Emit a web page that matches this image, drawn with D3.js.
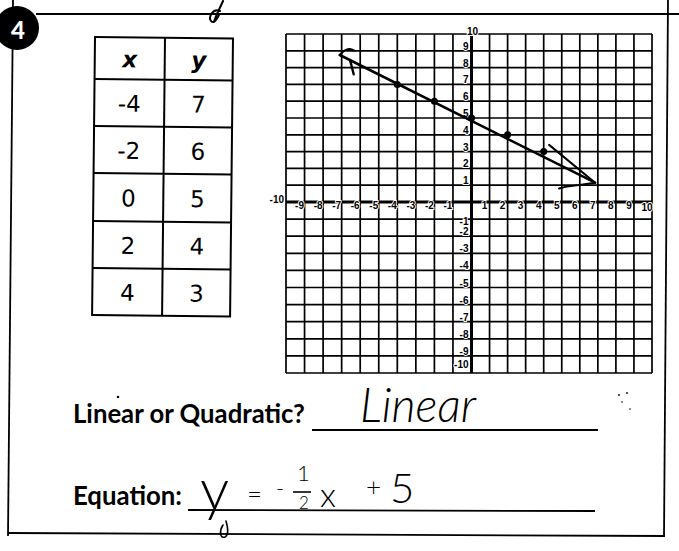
<!DOCTYPE html>
<html>
<head>
<meta charset="utf-8">
<script src="https://cdn.jsdelivr.net/npm/d3@7"></script>
<style>
  html, body { margin: 0; padding: 0; background: #fff; }
  svg { display: block; }
</style>
</head>
<body>
<svg id="chart" width="679" height="551"></svg>
<script>
// ---- Table of values ----
const tableX = [-4, -2, 0, 2, 4];
const tableY = [7, 6, 5, 4, 3];
const tableHeaders = ["x", "y"];

// ---- Coordinate grid ----
const gridValues = [-10, -9, -8, -7, -6, -5, -4, -3, -2, -1, 0, 1, 2, 3, 4, 5, 6, 7, 8, 9, 10];
const xTickLabels = [-9, -8, -7, -6, -5, -4, -3, -2, -1, 1, 2, 3, 4, 5, 6, 7, 8, 9];
const yTickLabels = [9, 8, 7, 6, 5, 4, 3, 2, 1, -1, -2, -3, -4, -5, -6, -7, -8, -9, -10];

// ---- Hand-drawn line through the points, with its arrow strokes ----
const drawnLine = [[-7.1, 8.75], [6.85, 1.15]];
const arrowRight = [[4.3, 3.4], [6.85, 1.15], [5.2, 0.9], [4.85, 0.8]];
const arrowLeft = [[-6.3, 9.0], [-6.55, 9.15], [-6.85, 9.05], [-7.1, 8.75]];
const arrowLeftTick = [[-6.55, 8.45], [-6.35, 7.6]];

// ---- Worksheet text ----
const problemNumber = "4";
const question1 = "Linear or Quadratic?";
const answer1 = "Linear";
const question2 = "Equation:";

const svg = d3.select("#chart");

// scales for the coordinate grid
const x = d3.scaleLinear().domain([-10, 0, 10]).range([286, 471.5, 652]);
const y = d3.scaleLinear().domain([-10, 0, 10]).range([373, 202, 34]);

// ---- worksheet frame (page is slightly skewed on the scan) ----
const frame = svg.append("g").attr("stroke", "#000").attr("fill", "none");
frame.append("line").attr("x1", 36).attr("y1", 14).attr("x2", 679).attr("y2", 14).attr("stroke-width", 1.8);
frame.append("line").attr("x1", 13).attr("y1", 0).attr("x2", 8).attr("y2", 536).attr("stroke-width", 1.8);
frame.append("line").attr("x1", 8).attr("y1", 533).attr("x2", 665).attr("y2", 536).attr("stroke-width", 1.8);
frame.append("line").attr("x1", 668).attr("y1", 0).attr("x2", 664).attr("y2", 537).attr("stroke-width", 1.8);

// problem number badge
svg.append("circle").attr("cx", 17).attr("cy", 28).attr("r", 22).attr("fill", "#000");
svg.append("text").attr("x", 18).attr("y", 29)
  .attr("text-anchor", "middle").attr("dominant-baseline", "central")
  .attr("font-family", "Lato, sans-serif").attr("font-weight", 900).attr("font-size", 24)
  .attr("fill", "#fff").text(problemNumber);

// pen mark crossing the top rule
svg.append("path")
  .attr("d", "M223,1 C220,8 216,15 214,22 M220,11 C213,8 208,17 211,21 C213,24 217,20 219,15")
  .attr("fill", "none").attr("stroke", "#000").attr("stroke-width", 2).attr("stroke-linecap", "round");

// ---- table ----
const tableG = svg.append("g").attr("transform", "translate(95,37) rotate(0.6)");
const colW = [70, 68];
const rowH = [42, 47, 47, 48, 47, 47];
const rowTop = d3.cumsum([0].concat(rowH));
const tableW = d3.sum(colW);
const tableH = rowTop[rowTop.length - 1];

tableG.append("rect").attr("x", 0).attr("y", 0).attr("width", tableW).attr("height", tableH)
  .attr("fill", "none").attr("stroke", "#000").attr("stroke-width", 2);
tableG.append("line").attr("x1", colW[0]).attr("x2", colW[0]).attr("y1", 0).attr("y2", tableH)
  .attr("stroke", "#000").attr("stroke-width", 2);
tableG.selectAll("line.row").data(rowTop.slice(1, -1)).join("line")
  .attr("class", "row")
  .attr("x1", 0).attr("x2", tableW).attr("y1", d => d).attr("y2", d => d)
  .attr("stroke", "#000").attr("stroke-width", 2);

const colCenter = [colW[0] / 2, colW[0] + colW[1] / 2];
tableG.selectAll("text.head").data(tableHeaders).join("text")
  .attr("class", "head")
  .attr("x", (d, i) => colCenter[i]).attr("y", rowH[0] / 2 + 1)
  .attr("text-anchor", "middle").attr("dominant-baseline", "central")
  .attr("font-family", "'DejaVu Sans', sans-serif").attr("font-weight", "bold")
  .attr("font-style", "italic").attr("font-size", 23).text(d => d);

const rowsData = tableX.map((v, i) => [v, tableY[i]]);
rowsData.forEach((pair, r) => {
  pair.forEach((v, c) => {
    tableG.append("text")
      .attr("x", colCenter[c]).attr("y", (rowTop[r + 1] + rowTop[r + 2]) / 2 + 1)
      .attr("text-anchor", "middle").attr("dominant-baseline", "central")
      .attr("font-family", "'DejaVu Sans', sans-serif").attr("font-size", 23)
      .text(v < 0 ? "-" + Math.abs(v) : String(v));
  });
});

// ---- coordinate grid ----
const grid = svg.append("g");
grid.selectAll("line.v").data(gridValues).join("line")
  .attr("class", "v")
  .attr("x1", d => x(d)).attr("x2", d => x(d))
  .attr("y1", y(10)).attr("y2", y(-10))
  .attr("stroke", "#000").attr("stroke-width", d => d === 0 ? 3 : 1.7);
grid.selectAll("line.h").data(gridValues).join("line")
  .attr("class", "h")
  .attr("y1", d => y(d)).attr("y2", d => y(d))
  .attr("x1", x(-10)).attr("x2", x(10))
  .attr("stroke", "#000").attr("stroke-width", d => d === 0 ? 3 : 1.7);

const tickFont = g => g
  .attr("font-family", "'Liberation Sans', Arial, sans-serif")
  .attr("font-weight", "bold").attr("font-size", 10)
  .attr("fill", "#000").attr("stroke", "#fff").attr("stroke-width", 1.8)
  .attr("paint-order", "stroke");

// x-axis labels sit on the axis just left of each grid line
grid.append("g").call(tickFont).selectAll("text").data(xTickLabels).join("text")
  .attr("x", d => x(d) - 5).attr("y", y(0) + 3)
  .attr("text-anchor", "middle").attr("dominant-baseline", "central")
  .text(d => d);
grid.append("text").call(tickFont)
  .attr("x", x(-10) - 2).attr("y", y(0) - 3)
  .attr("text-anchor", "end").attr("dominant-baseline", "central").text(-10);
grid.append("text").call(tickFont)
  .attr("x", x(10) - 5).attr("y", y(0) + 5)
  .attr("text-anchor", "middle").attr("dominant-baseline", "central").text(10);

// y-axis labels sit just left of the axis
const yLabelOffset = d => d === -1 ? 2 : (d === -10 ? -9 : -4.5);
grid.append("g").call(tickFont).selectAll("text").data(yTickLabels).join("text")
  .attr("x", x(0) - 3)
  .attr("y", d => y(d) + yLabelOffset(d))
  .attr("text-anchor", "end").attr("dominant-baseline", "central")
  .text(d => d);
grid.append("text").call(tickFont)
  .attr("x", x(0) + 1).attr("y", y(10) - 3)
  .attr("text-anchor", "middle").attr("dominant-baseline", "central").text(10);

// ---- hand-drawn line, arrows and plotted points ----
const pen = d3.line().x(d => x(d[0])).y(d => y(d[1]));
const ink = svg.append("g").attr("fill", "none").attr("stroke", "#000")
  .attr("stroke-linecap", "round").attr("stroke-linejoin", "round");
ink.append("path").attr("d", pen(drawnLine)).attr("stroke-width", 2.6);
ink.append("path").attr("d", pen(arrowRight)).attr("stroke-width", 2);
ink.append("path").attr("d", d3.line().x(d => x(d[0])).y(d => y(d[1])).curve(d3.curveBasis)(arrowLeft)).attr("stroke-width", 2);
ink.append("path").attr("d", pen(arrowLeftTick)).attr("stroke-width", 2.4);

svg.append("g").selectAll("circle").data(rowsData).join("circle")
  .attr("cx", d => x(d[0])).attr("cy", d => y(d[1]))
  .attr("r", 3.5).attr("fill", "#000");

// ---- questions and answers ----
function fitText(sel, targetWidth) {
  const node = sel.node();
  const w = node.getComputedTextLength();
  const fs = parseFloat(sel.attr("font-size"));
  sel.attr("font-size", fs * targetWidth / w);
}

const q1 = svg.append("text").attr("x", 73).attr("y", 423)
  .attr("font-family", "Lato, sans-serif").attr("font-weight", "bold").attr("font-size", 24)
  .text(question1);
fitText(q1, 232);
svg.append("line").attr("x1", 312).attr("x2", 598).attr("y1", 430).attr("y2", 430)
  .attr("stroke", "#000").attr("stroke-width", 1.8);

const a1 = svg.append("text").attr("x", 360).attr("y", 422)
  .attr("font-family", "Lato, sans-serif").attr("font-weight", 300).attr("font-style", "italic")
  .attr("font-size", 40).text(answer1);
fitText(a1, 116);

const q2 = svg.append("text").attr("x", 73).attr("y", 505)
  .attr("font-family", "Lato, sans-serif").attr("font-weight", "bold").attr("font-size", 24)
  .text(question2);
fitText(q2, 109);
svg.append("line").attr("x1", 188).attr("x2", 595).attr("y1", 510).attr("y2", 511)
  .attr("stroke", "#000").attr("stroke-width", 1.8);

// handwritten equation: y = -1/2 x + 5
const hand = g => g.attr("font-family", "Lato, sans-serif").attr("font-weight", 300).attr("fill", "#000");
svg.append("text").call(hand).attr("x", 200).attr("y", 510).attr("font-size", 58).text("y");
// the long looped tail of the written y
svg.append("path").attr("d", "M226,521 C228,528 229,535 225,537 C220,539 219,531 223,525")
  .attr("fill", "none").attr("stroke", "#000").attr("stroke-width", 1.6).attr("stroke-linecap", "round");
svg.append("text").call(hand).attr("x", 247).attr("y", 503).attr("font-size", 26).text("=");
svg.append("text").call(hand).attr("x", 276).attr("y", 496).attr("font-size", 22).text("-");
svg.append("text").call(hand).attr("x", 297).attr("y", 481).attr("font-size", 22).text("1");
svg.append("line").attr("x1", 293).attr("x2", 311).attr("y1", 492).attr("y2", 492)
  .attr("stroke", "#000").attr("stroke-width", 1.6);
svg.append("text").call(hand).attr("x", 299).attr("y", 509).attr("font-size", 17).text("2");
svg.append("text").call(hand).attr("x", 320).attr("y", 507).attr("font-size", 34).text("x");
svg.append("text").call(hand).attr("x", 366).attr("y", 496).attr("font-size", 26).text("+");
svg.append("text").call(hand).attr("x", 390).attr("y", 503).attr("font-size", 42).text("5");

// stray pen specks
const specks = svg.append("g").attr("fill", "#000");
[[118, 397, 1.3], [619, 395, 0.9], [627, 393, 0.9], [622, 402, 0.8], [630, 409, 0.8]].forEach(s => {
  specks.append("circle").attr("cx", s[0]).attr("cy", s[1]).attr("r", s[2]);
});
</script>
</body>
</html>
